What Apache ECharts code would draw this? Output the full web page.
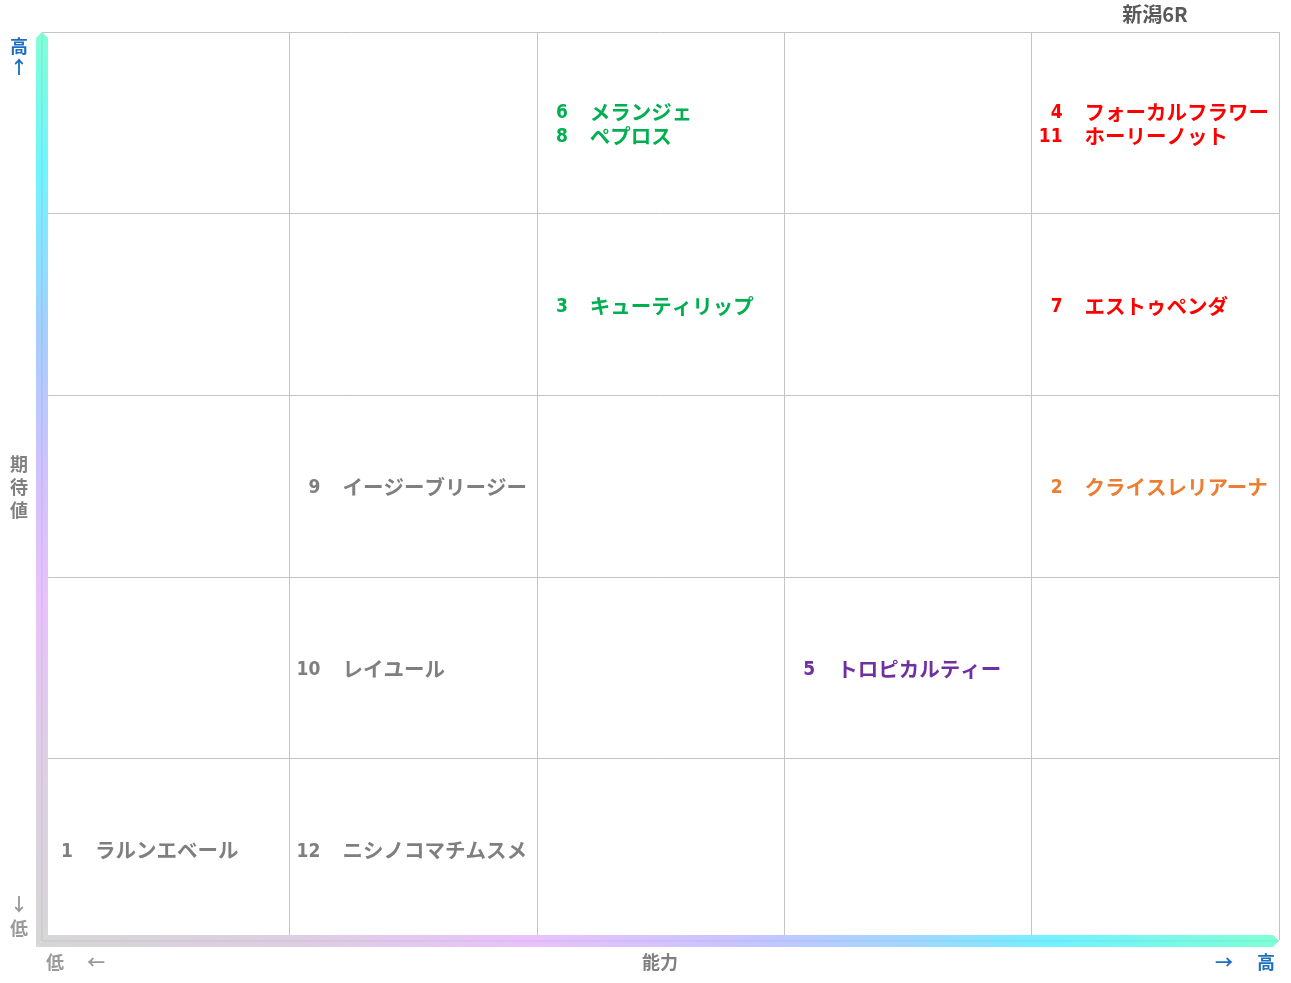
<!DOCTYPE html>
<html>
<head>
<meta charset="utf-8">
<script src="https://cdn.jsdelivr.net/npm/echarts@6/dist/echarts.min.js"></script>
<style>
html,body{margin:0;padding:0;background:#fff;}
#main{width:1291px;height:983px;}
</style>
</head>
<body>
<div id="main"></div>
<script>
// ---- data ----
var titleText = '新潟6R';
var horseNumbers = [1, 2, 3, 4, 5, 6, 7, 8, 9, 10, 11, 12];
var horseNames = ['ラルンエベール', 'クライスレリアーナ', 'キューティリップ', 'フォーカルフラワー', 'トロピカルティー', 'メランジェ', 'エストゥペンダ', 'ペプロス', 'イージーブリージー', 'レイユール', 'ホーリーノット', 'ニシノコマチムスメ'];
var abilityLevel = [1, 5, 3, 5, 4, 3, 5, 3, 2, 2, 5, 2];      // column 1..5 (能力)
var expectationLevel = [1, 3, 4, 5, 2, 5, 4, 5, 3, 2, 5, 1];  // row 1..5 (期待値)
var levelTicks = [0, 1, 2, 3, 4, 5];

// ---- styles (separate from data) ----
var horseColors = ['#7f7f7f', '#ed7d31', '#00b050', '#ff0000', '#7030a0', '#00b050', '#ff0000', '#00b050', '#7f7f7f', '#7f7f7f', '#ff0000', '#7f7f7f'];
var FONT = '"Noto Sans CJK JP", "Noto Sans", sans-serif';
var NUMFONT = '"DejaVu Sans Condensed", "Liberation Sans Narrow", "Roboto", sans-serif';

// group entries by cell
var cellMap = {};
var cells = [];
horseNumbers.forEach(function (n, i) {
  var key = abilityLevel[i] + '_' + expectationLevel[i];
  if (!cellMap[key]) {
    cellMap[key] = { col: abilityLevel[i], row: expectationLevel[i], items: [] };
    cells.push(cellMap[key]);
  }
  cellMap[key].items.push(i);
});
var cellData = cells.map(function (c, idx) { return [c.col - 1, c.row - 0.5, idx]; });

var chart = echarts.init(document.getElementById('main'), null, { renderer: 'canvas' });

var W = 1291, H = 983;
var gL = 42, gT = 32, gR = 12, gB = 43;
var gx0 = gL, gx1 = W - gR, gy0 = gT, gy1 = H - gB;

var vGrad = new echarts.graphic.LinearGradient(0, 0, 0, 1, [
  { offset: 0, color: '#80ffd6' },
  { offset: 0.15, color: '#72f4ff' },
  { offset: 0.33, color: '#a6ceff' },
  { offset: 0.48, color: '#cfc2ff' },
  { offset: 0.62, color: '#e8c2fb' },
  { offset: 0.8, color: '#ddd0e4' },
  { offset: 1, color: '#d6d6d6' }
]);
var hGrad = new echarts.graphic.LinearGradient(0, 0, 1, 0, [
  { offset: 0, color: '#d6d6d6' },
  { offset: 0.2, color: '#ddcfe2' },
  { offset: 0.4, color: '#e8c2fb' },
  { offset: 0.56, color: '#cac4ff' },
  { offset: 0.7, color: '#a2d6ff' },
  { offset: 0.82, color: '#72f2ff' },
  { offset: 1, color: '#80ffd6' }
]);

function txt(x, y, s, color, size, align) {
  return {
    type: 'text', x: x, y: y, z: 10,
    style: { text: s, fill: color, font: 'bold ' + (size || 18) + 'px ' + FONT, textAlign: align || 'center', textVerticalAlign: 'middle' }
  };
}

var blue = '#1f6fc0', gray = '#808080', lgray = '#9a9a9a';

var option = {
  backgroundColor: '#ffffff',
  animation: false,
  grid: { left: gL, top: gT, right: gR, bottom: gB },
  xAxis: {
    type: 'value', min: 0, max: 5, interval: 1,
    axisLine: { show: false }, axisTick: { show: false }, axisLabel: { show: false },
    splitLine: { show: true, lineStyle: { color: '#c4c4c4', width: 1 } }
  },
  yAxis: {
    type: 'value', min: 0, max: 5, interval: 1,
    axisLine: { show: false }, axisTick: { show: false }, axisLabel: { show: false },
    splitLine: { show: true, lineStyle: { color: '#c4c4c4', width: 1 } }
  },
  graphic: [
    { type: 'polygon', z: 5, shape: { points: [[gx0 - 6, gy0 + 6], [gx0, gy0], [gx0 + 6, gy0 + 6], [gx0 + 6, gy1 - 5], [gx0 - 6, gy1 + 7]] }, style: { fill: vGrad } },
    { type: 'polygon', z: 5, shape: { points: [[gx0 - 6, gy1 + 7], [gx0 + 6, gy1 - 5], [gx1 - 6, gy1 - 5], [gx1, gy1 + 1], [gx1 - 6, gy1 + 7]] }, style: { fill: hGrad } },
    { type: 'line', z: 6, shape: { x1: gx0, y1: gy0 + 1, x2: gx0, y2: gy1 + 1 }, style: { stroke: 'rgba(0,0,0,0.07)', lineWidth: 1 } },
    { type: 'line', z: 6, shape: { x1: gx0, y1: gy1 + 1, x2: gx1 - 1, y2: gy1 + 1 }, style: { stroke: 'rgba(0,0,0,0.07)', lineWidth: 1 } },
    txt(1155, 14, titleText, '#595959', 20),
    txt(19, 46, '高', blue, 18),
    txt(19, 67, '↑', blue, 18),
    txt(19, 464, '期', gray, 18),
    txt(19, 487, '待', gray, 18),
    txt(19, 510, '値', gray, 18),
    txt(19, 904, '↓', lgray, 18),
    txt(19, 928, '低', lgray, 18),
    txt(55, 962, '低', lgray, 18),
    txt(96, 962, '←', lgray, 18),
    txt(660, 962, '能力', gray, 18),
    txt(1224, 962, '→', blue, 18),
    txt(1266, 962, '高', blue, 18)
  ],
  series: [{
    type: 'custom',
    coordinateSystem: 'cartesian2d',
    data: cellData,
    z: 20,
    renderItem: function (params, api) {
      var cell = cells[api.value(2)];
      var p = api.coord([api.value(0), api.value(1)]);
      var n = cell.items.length;
      var lh = 24;
      var children = [];
      cell.items.forEach(function (hi, k) {
        var y = p[1] + 1.5 + (k - (n - 1) / 2) * lh;
        children.push({
          type: 'text', x: p[0] + 31, y: y + 1,
          style: { text: String(horseNumbers[hi]), fill: horseColors[hi], font: 'bold 19px ' + NUMFONT, textAlign: 'right', textVerticalAlign: 'middle' }
        });
        children.push({
          type: 'text', x: p[0] + 53, y: y,
          style: { text: horseNames[hi], fill: horseColors[hi], font: 'bold 20.5px ' + FONT, textAlign: 'left', textVerticalAlign: 'middle' }
        });
      });
      return { type: 'group', children: children };
    }
  }]
};
chart.setOption(option);
</script>
</body>
</html>
